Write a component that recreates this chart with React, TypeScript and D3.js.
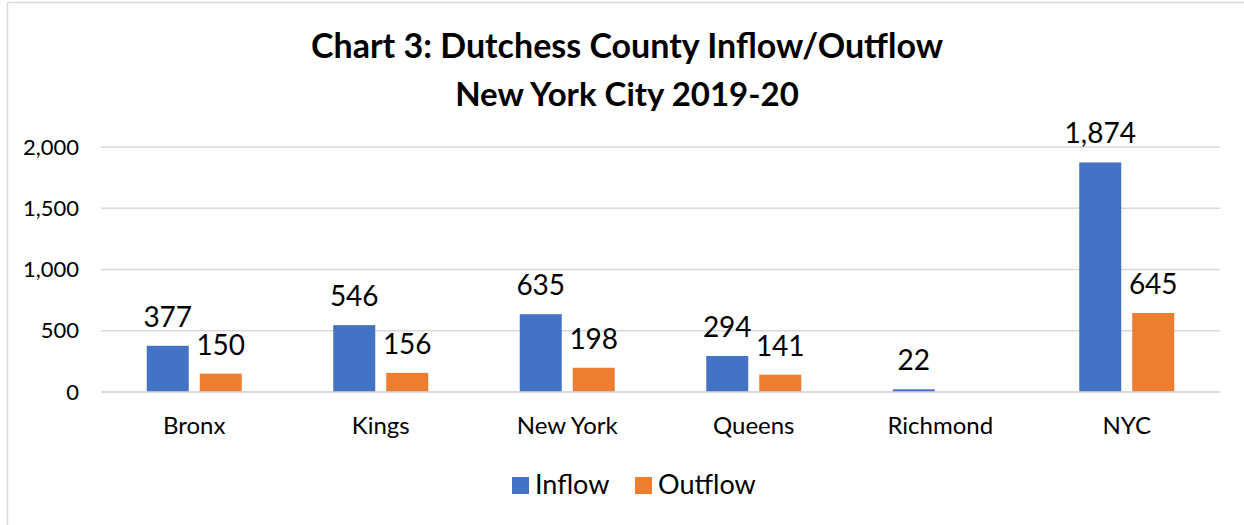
import React from 'react';
import * as d3 from 'd3';

const categories = ['Bronx', 'Kings', 'New York', 'Queens', 'Richmond', 'NYC'];
const inflow = [377, 546, 635, 294, 22, 1874];
const outflow: (number | null)[] = [150, 156, 198, 141, null, 645];
const yTicks = [0, 500, 1000, 1500, 2000];
const seriesNames = ['Inflow', 'Outflow'];
const colors = ['#4472C4', '#ED7D31'];

const FONT = 'Lato, "Open Sans", sans-serif';

const App = () => {
  const width = 1244;
  const height = 525;
  const margin = { top: 147, right: 24, bottom: 133, left: 101 };

  const x = d3.scaleBand<string>()
    .domain(categories)
    .range([margin.left, width - margin.right])
    .paddingInner(0)
    .paddingOuter(0);

  const y = d3.scaleLinear().domain([0, 2000]).range([height - margin.bottom, margin.top]);

  const barW = 42;
  const gap = 11;
  const groupW = barW * 2 + gap;
  const series = [inflow, outflow];
  const fmt = d3.format(',');

  return (
    <svg width={width} height={height} style={{ position: 'absolute', left: 0, top: 0 }}>
      <rect x={0} y={0} width={width} height={height} fill="#fff" />
      <rect x={7.5} y={2.5} width={width + 10} height={height + 10} fill="none" stroke="#d9d9d9" strokeWidth={1.5} />

      <text x={627} y={58} textAnchor="middle" fontFamily={FONT} fontWeight="bold" fontSize={34} fill="#000">
        Chart 3: Dutchess County Inflow/Outflow
      </text>
      <text x={627} y={106} textAnchor="middle" fontFamily={FONT} fontWeight="bold" fontSize={33} fill="#000">
        New York City 2019-20
      </text>

      {yTicks.map(t => (
        <g key={t}>
          <line x1={margin.left} x2={width - margin.right} y1={y(t)} y2={y(t)} stroke="#d9d9d9" strokeWidth={1.5} />
          <text x={79} y={y(t) + 7.5} textAnchor="end" fontFamily={FONT} fontSize={22} fill="#000">
            {fmt(t)}
          </text>
        </g>
      ))}

      {categories.map((c, i) => {
        const cx = (x(c) as number) + x.bandwidth() / 2;
        const start = cx - groupW / 2;
        return (
          <g key={c}>
            {series.map((s, si) => {
              const v = s[i];
              if (v == null) return null;
              const bx = start + si * (barW + gap);
              return (
                <g key={si}>
                  <rect x={bx} y={y(v)} width={barW} height={y(0) - y(v)} fill={colors[si]} />
                  <text x={bx + barW / 2} y={y(v) - 19} textAnchor="middle" fontFamily={FONT} fontSize={28} fill="#000">
                    {fmt(v)}
                  </text>
                </g>
              );
            })}
            <text x={cx} y={434} textAnchor="middle" fontFamily={FONT} fontSize={24} fill="#000">
              {c}
            </text>
          </g>
        );
      })}

      <line x1={margin.left} x2={width - margin.right} y1={y(0)} y2={y(0)} stroke="#d9d9d9" strokeWidth={1.5} />

      {seriesNames.map((n, i) => {
        const lx = [512, 635][i];
        return (
          <g key={n}>
            <rect x={lx} y={477} width={17} height={17} fill={colors[i]} />
            <text x={lx + 23} y={494} fontFamily={FONT} fontSize={27} fill="#000">
              {n}
            </text>
          </g>
        );
      })}
    </svg>
  );
};

export default App;
